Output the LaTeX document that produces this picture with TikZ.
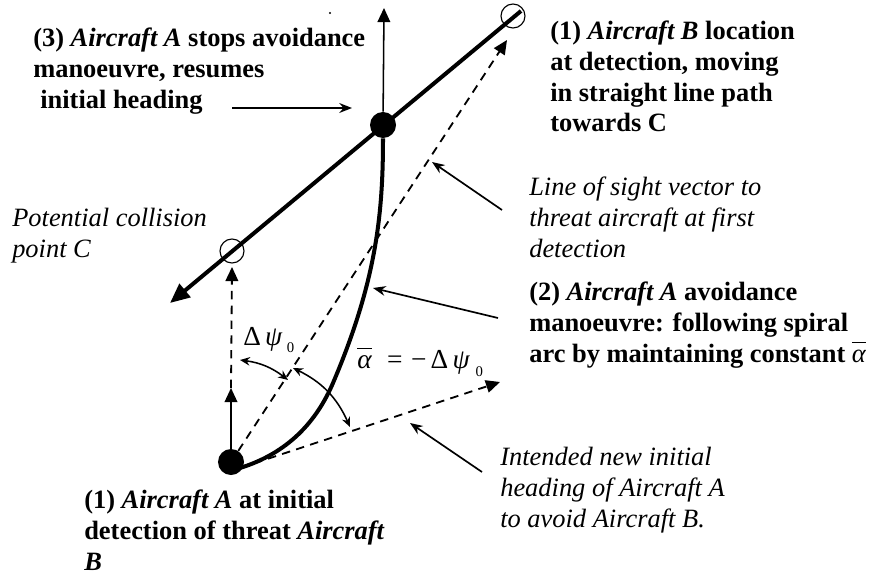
\documentclass[tikz,border=0pt]{standalone}
\usepackage{fontspec}
\setmainfont{Liberation Serif}
\usetikzlibrary{arrows.meta}
\newcommand{\abar}{$\overline{\mbox{\normalfont\itshape α\rule{0pt}{12.3pt}}}$}
\begin{document}
\begin{tikzpicture}[x = 0.025cm, y = -0.025cm,
    txt/.style      = {anchor = base west, align = left, inner sep = 0pt,
                       font = \fontsize{18.8}{22}\selectfont},
    boldtxt/.style  = {txt, font = \fontsize{18.8}{22}\selectfont\bfseries},
    italtxt/.style  = {txt, font = \fontsize{18.8}{22}\selectfont\itshape},
    angtxt/.style   = {anchor = base west, inner sep = 0pt,
                       font = \fontsize{19.5}{21}\selectfont},
    plane/.style    = {circle, fill, inner sep = 0pt, minimum size = 0.65cm},
    ring/.style     = {circle, draw, inner sep = 0pt, minimum size = 0.6cm, line width = 0.8pt},
    track/.style    = {line width = 2.85pt},
    thinline/.style = {line width = 1.1pt},
    dashline/.style = {line width = 1.3pt, dash pattern = on 6pt off 4.5pt},
    headtip/.style  = {-{Triangle[length = 10pt, width = 9pt]}},
    pointer/.style  = {line width = 1.2pt, -{Stealth[length = 9pt, width = 7pt]}},
    sweep/.style    = {line width = 1.1pt,
                       {Stealth[length = 7pt, width = 6pt]}-{Stealth[length = 7pt, width = 6pt]}}]
  \useasboundingbox (0,0) rectangle (882,578);

  \node[plane] at (231,462)  (A) {};
  \node[plane] at (383,125)  (M) {};
  \node[ring]  at (513, 16)  (B) {};
  \node[ring]  at (232,251)  (C) {};
  \fill (330,13) circle (0.8pt);

  \coordinate (Bt)  at (521, 11);
  \coordinate (Ct)  at (170,303);
  \coordinate (Mup) at (384,  8);
  \coordinate (Bs)  at (507, 40);
  \coordinate (Av)  at (231,388);
  \coordinate (Cs)  at (232,267);
  \coordinate (As)  at (240,468);
  \coordinate (Sm)  at (333,383);
  \coordinate (Hs)  at (500,382);

  \draw[track, -{Triangle[length = 14pt, width = 12pt]}] (Bt) -- (Ct);
  \draw[thinline, headtip] (M) -- (Mup);
  \draw[dashline, headtip] (A) -- (Bs);
  \draw[thinline, headtip] (A) -- (Av);
  \draw[dashline, headtip] (Av) -- (Cs);
  \draw[dashline, headtip] (As) -- (Hs);
  \draw[track] (As) .. controls (288,453) and (316.5,421.6) .. (Sm)
                    .. controls (376,282) and (383,215) .. (M);

  \draw[sweep] (240,360) to[bend left = 15] (288,380);
  \draw[sweep] (293,368) to[bend left = 20] (350,427);

  \node[angtxt] at (243,345) (d1)
    {Δ\hspace{3pt}\textit{ψ}\hspace{3pt}\raisebox{-5.5pt}{\fontsize{10.5}{12}\selectfont 0}};
  \node[angtxt] at (357,368) (d2)
    {\abar\hspace{11pt}=\hspace{6pt}−\hspace{3pt}Δ\hspace{3pt}\textit{ψ}\hspace{4pt}\raisebox{-6pt}{\fontsize{10.5}{12}\selectfont 0}};

  \node[boldtxt] at (33,108) (t3)
    {(3) \textit{Aircraft A} stops avoidance\\manoeuvre, resumes\\\hspace*{5pt}initial heading};
  \node[boldtxt] at (550,132) (tB)
    {(1) \textit{Aircraft B} location\\at detection, moving\\in straight line path\\towards C};
  \node[italtxt] at (529,257) (tL)
    {Line of sight vector to\\threat aircraft at first\\detection};
  \node[italtxt] at (12,257) (tC)
    {Potential collision\\point C};
  \node[boldtxt] at (529,362) (t2)
    {(2) \textit{Aircraft A} avoidance\\manoeuvre: following spiral\\arc by maintaining constant \abar};
  \node[italtxt] at (500,527) (tH)
    {Intended new initial\\heading of Aircraft A\\to avoid Aircraft B.};
  \node[boldtxt] at (84,570) (tA)
    {(1) \textit{Aircraft A} at initial\\detection of threat \textit{Aircraft}\\\textit{B}};

  \draw[pointer] (232,108) -- (352,108);
  \draw[pointer] (502,210) -- (432,162);
  \draw[pointer] (498,318) -- (373,288);
  \draw[pointer] (482,472) -- (410,423);
\end{tikzpicture}
\end{document}
